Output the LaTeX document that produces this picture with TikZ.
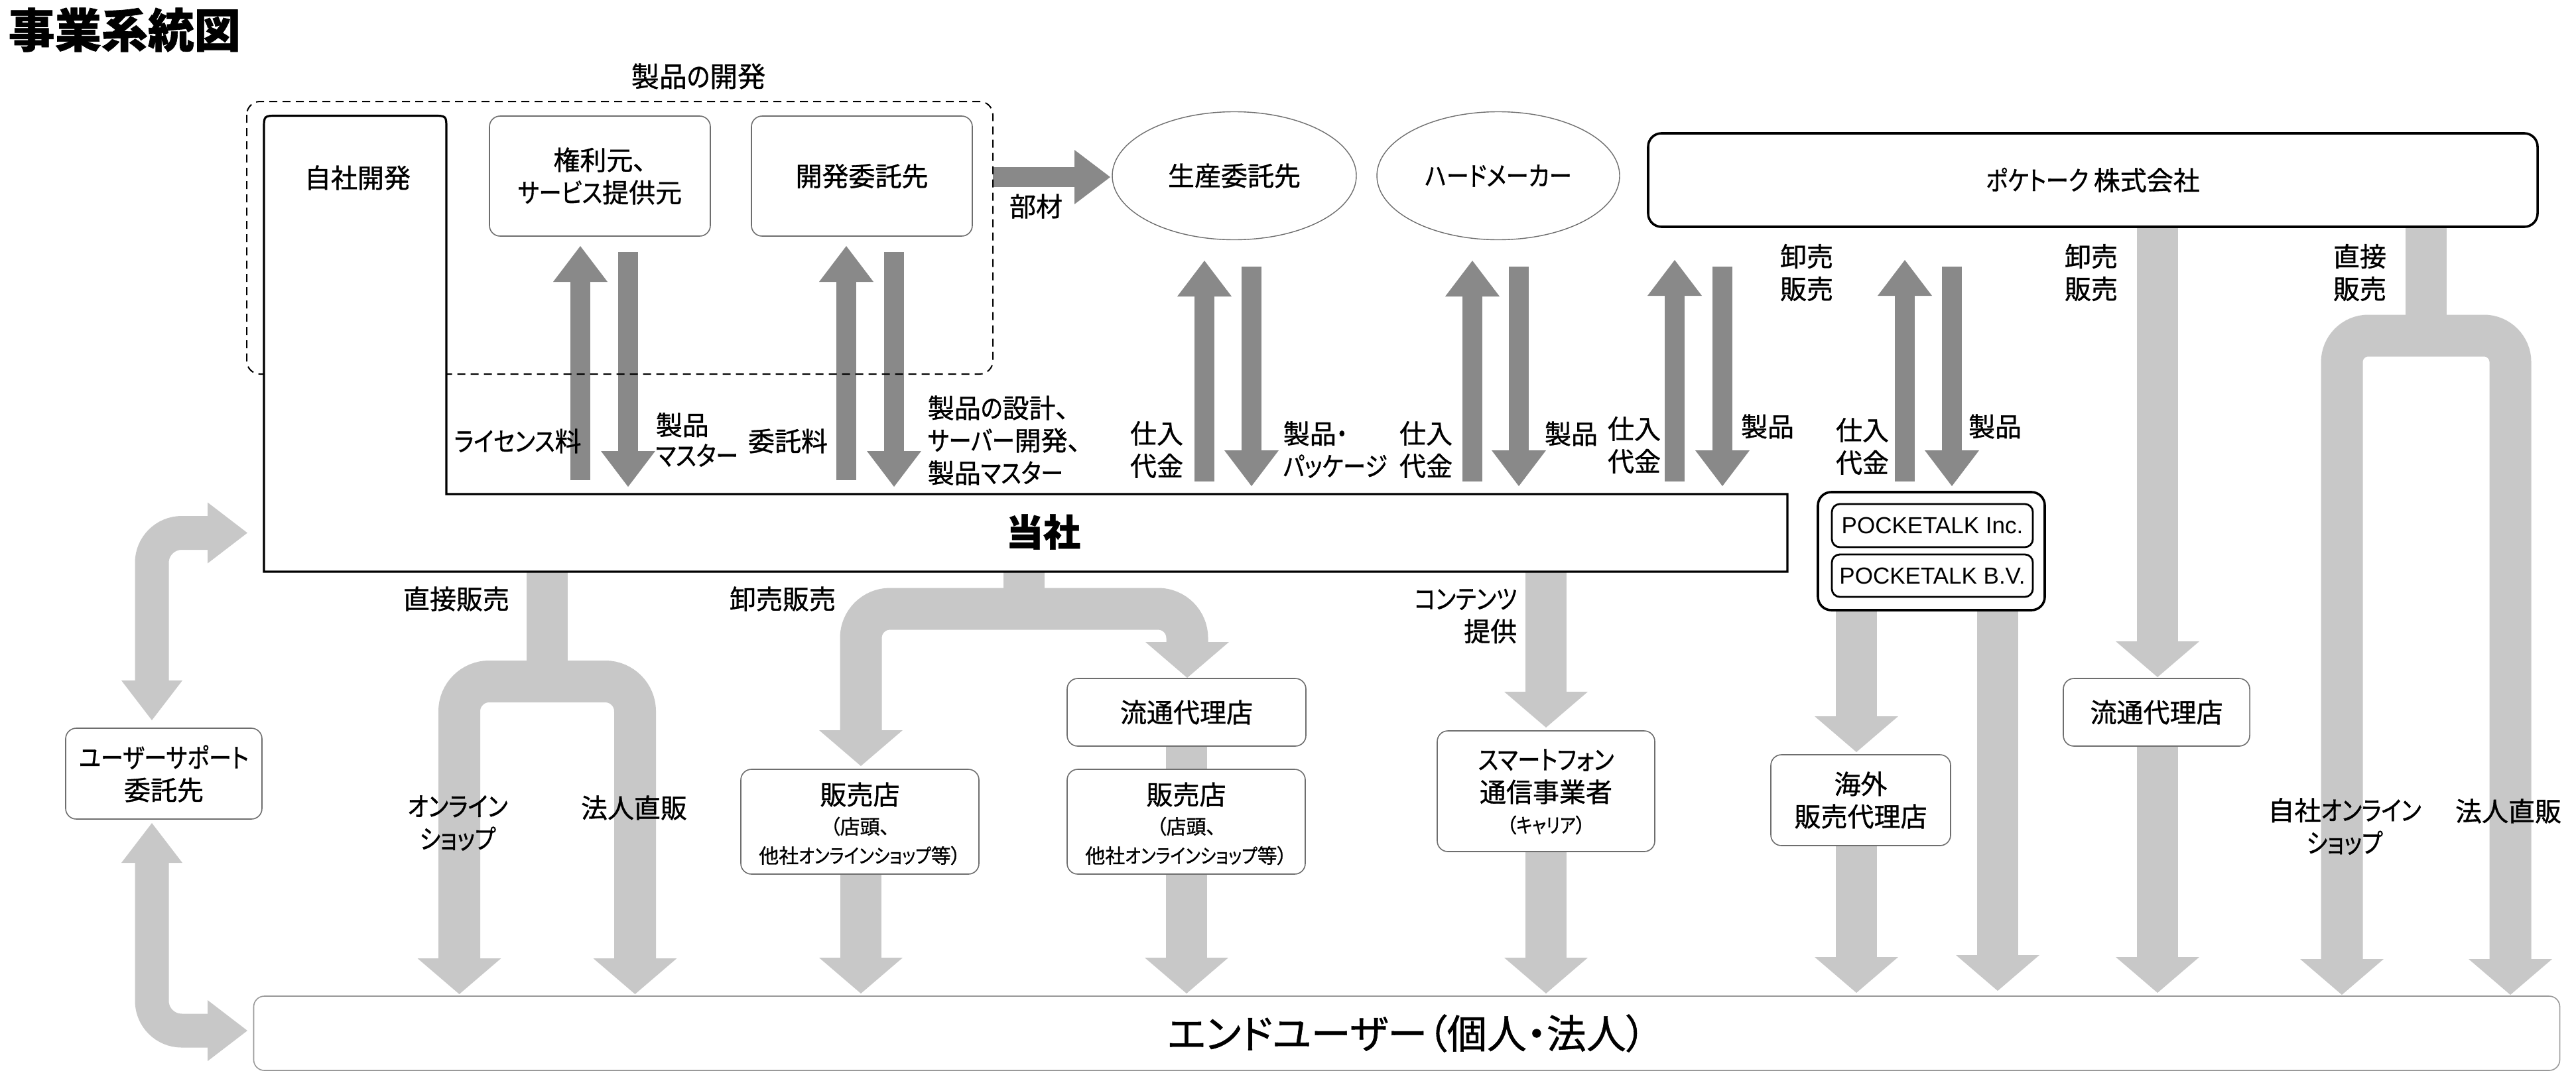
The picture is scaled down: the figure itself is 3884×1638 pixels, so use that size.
\documentclass[tikz,border=0pt]{standalone}
\usepackage{fontspec}
\setmainfont{Noto Sans CJK JP}[RawFeature=+palt, FakeBold=0.9]
\newfontfamily\kanjif{Noto Sans CJK JP}[RawFeature=+palt, FakeBold=0.9]
\newfontfamily\kanaf{Noto Sans CJK JP}[RawFeature=+palt, FakeStretch=0.85, FakeBold=0.9]
\newfontfamily\latf{Liberation Sans}
\usetikzlibrary{arrows.meta,shapes.geometric}
% narrower kana, as in the proportional Japanese gothic of the reference
\XeTeXinterchartokenstate=1
\newXeTeXintercharclass\kanacls
\newXeTeXintercharclass\kanjicls
\newcount\kcnt
\kcnt="3041
\loop \XeTeXcharclass\kcnt=\kanacls \advance\kcnt by 1 \ifnum\kcnt<"3100 \repeat
\kcnt="4E00
\loop \XeTeXcharclass\kcnt=\kanjicls \advance\kcnt by 1 \ifnum\kcnt<"A000 \repeat
\kcnt="3000
\loop \XeTeXcharclass\kcnt=\kanjicls \advance\kcnt by 1 \ifnum\kcnt<"3040 \repeat
\kcnt="FF00
\loop \XeTeXcharclass\kcnt=\kanjicls \advance\kcnt by 1 \ifnum\kcnt<"FFF0 \repeat
\XeTeXinterchartoks 4095 \kanacls = {\kanaf}
\XeTeXinterchartoks 0 \kanacls = {\kanaf}
\XeTeXinterchartoks \kanjicls \kanacls = {\kanaf}
\XeTeXinterchartoks \kanacls \kanjicls = {\kanjif}
\XeTeXinterchartoks 4095 \kanjicls = {\kanjif}
\XeTeXinterchartoks 0 \kanjicls = {\kanjif}
\XeTeXinterchartoks \kanacls 0 = {\kanjif}
\newcommand\nokana{\XeTeXinterchartokenstate 0\relax}
\definecolor{lg}{RGB}{200,200,200}
\definecolor{dg}{RGB}{137,137,137}
\definecolor{bd}{RGB}{110,110,110}
\newcommand\myfn{\fontsize{10pt}{12.25pt}\selectfont}
\newcommand\myfm{\fontsize{10.5pt}{12.5pt}\selectfont}
\newcommand\myfs{\fontsize{7.5pt}{9pt}\selectfont}
\newcommand\myfl{\fontsize{14pt}{16pt}\selectfont}
\newcommand\myfe{\nokana\fontsize{15pt}{17pt}\selectfont}
\tikzset{
  darr/.style={draw=dg, line width=7.5pt, -{Triangle[width=20.5pt,length=13.5pt,line width=0pt]}},
  larr/.style={draw=lg, line width=15.5pt, -{Triangle[width=31.5pt,length=13.5pt,line width=0pt]}},
  larrb/.style={draw=lg, line width=15.75pt, {Triangle[width=31.5pt,length=13.5pt,line width=0pt]}-{Triangle[width=31.5pt,length=13.5pt,line width=0pt]}},
  lbar/.style={draw=lg, line width=15.5pt},
  usarr/.style={draw=lg, line width=12.75pt, {Triangle[width=23pt,length=15pt,line width=0pt]}-{Triangle[width=23pt,length=15pt,line width=0pt]}},
  box/.style={rectangle, rounded corners=4pt, draw=bd, line width=0.4pt, fill=white, inner sep=0pt, align=center, font=\myfn},
  bbox/.style={rectangle, rounded corners=5pt, draw=black, line width=0.9pt, fill=white, inner sep=0pt, align=center},
  ell/.style={ellipse, draw=bd, line width=0.35pt, fill=white, inner sep=0pt, font=\myfn},
  lab/.style={inner sep=0pt, align=center, font=\myfn},
}
\begin{document}
\begin{tikzpicture}[x=0.25pt,y=-0.25pt]
\useasboundingbox (0,0) rectangle (3884,1638);

% ---------- light grey flow arrows ----------
\draw[lbar] (825,862) -- (825,1030);
\draw[larrb, rounded corners=11.25pt] (692.5,1499) -- (692.5,1027.5) -- (957.5,1027.5) -- (957.5,1499);
\draw[lbar] (1544,862) -- (1544,920);
\draw[larrb, rounded corners=11pt] (1298,1155) -- (1298,918) -- (1790,918) -- (1790,1022);
\draw[lbar] (1789,1120) -- (1789,1165);
\draw[larr] (1298,1318) -- (1298,1498);
\draw[larr] (1789,1318) -- (1789,1498);
\draw[larr] (2331,862) -- (2331,1097);
\draw[larr] (2331,1284) -- (2331,1498);
\draw[larr] (2799,920) -- (2799,1134);
\draw[larr] (2799,1275) -- (2799,1497);
\draw[larr] (3012,920) -- (3012,1494);
\draw[larr] (3253,342) -- (3253,1021);
\draw[larr] (3253,1125) -- (3253,1497);
\draw[lbar] (3658,342) -- (3658,510);
\draw[larrb, rounded corners=10pt] (3531,1500) -- (3531,506) -- (3785,506) -- (3785,1500);
\draw[usarr, rounded corners=11.25pt] (229,1086) -- (229,803.5) -- (373,803.5);
\draw[usarr, rounded corners=11.25pt] (229,1241) -- (229,1554) -- (373,1554);

% ---------- dark grey arrows ----------
\draw[darr] (875,724) -- (875,371);
\draw[darr] (947,380) -- (947,734);
\draw[darr] (1276,724) -- (1276,371);
\draw[darr] (1348,380) -- (1348,734);
\draw[darr] (1816,726) -- (1816,393);
\draw[darr] (1887,402) -- (1887,733);
\draw[darr] (2220,726) -- (2220,393);
\draw[darr] (2290,402) -- (2290,733);
\draw[darr] (2525,726) -- (2525,392);
\draw[darr] (2597,402) -- (2597,733);
\draw[darr] (2872,726) -- (2872,392);
\draw[darr] (2943,402) -- (2943,733);
\draw[darr] (1497,267) -- (1674,267);

% ---------- shapes ----------
\draw[dashed, dash pattern=on 3pt off 2pt, line width=0.5pt, rounded corners=5pt] (372,153) rectangle (1497,564);
\draw[line width=0.8pt, fill=white] (398,862) -- (398,194.5) .. controls (398,174.5) .. (418,174.5) -- (653,174.5) .. controls (673,174.5) .. (673,194.5) -- (673,745) -- (2695,745) -- (2695,862) -- cycle;

\node[box, minimum width=83.25pt, minimum height=45.25pt] (kenri) at (904.5,265.5) {権利元、\\サービス提供元};
\node[box, minimum width=83.25pt, minimum height=45.25pt] (itaku) at (1299.5,265.5) {開発委託先};
\node[ell, minimum width=92pt, minimum height=48.25pt] (seisan) at (1861,265) {生産委託先};
\node[ell, minimum width=91.5pt, minimum height=48.25pt] (hard) at (2259,265) {ハードメーカー};
\node[bbox, minimum width=335.25pt, minimum height=35.25pt, font=\myfn] (pt) at (3155.5,271.5) {ポケトーク 株式会社};
\node[bbox, minimum width=85.5pt, minimum height=44.5pt] (pkout) at (2912,831) {};
\node[bbox, rounded corners=3pt, line width=0.7pt, minimum width=75.75pt, minimum height=16.25pt, font=\latf\fontsize{8.75pt}{10pt}\selectfont] (pkinc) at (2913.5,792.5) {POCKETALK Inc.};
\node[bbox, rounded corners=3pt, line width=0.7pt, minimum width=75.75pt, minimum height=16pt, font=\latf\fontsize{8.75pt}{10pt}\selectfont] (pkbv) at (2913.5,868) {POCKETALK B.V.};
\node[box, minimum width=74pt, minimum height=34.25pt] (support) at (247,1166.5) {ユーザーサポート\\委託先};
\node[box, minimum width=89.75pt, minimum height=39.5pt] (shop1) at (1296.5,1239) {};
\node[box, minimum width=90pt, minimum height=25.5pt] (dist1) at (1789,1074) {流通代理店};
\node[box, minimum width=89.75pt, minimum height=39.5pt] (shop2) at (1788.5,1239) {};
\node[box, minimum width=82pt, minimum height=45.5pt] (smart) at (2331,1193) {};
\node[box, minimum width=67.75pt, minimum height=34.25pt] (kaigai) at (2805.5,1206.5) {海外\\販売代理店};
\node[box, minimum width=70.25pt, minimum height=25.5pt] (dist2) at (3251.5,1074) {流通代理店};
\node[box, draw=black!40, minimum width=869.25pt, minimum height=28pt, font=\myfe] (enduser) at (2121,1558) {エンドユーザー（個人・法人）};

% ---------- texts ----------
\node[lab, anchor=west, font=\fontsize{17.5pt}{20pt}\selectfont\bfseries] (title) at (12,45) {事業系統図};
\node[lab, font=\myfm] (devlab) at (1053,115) {製品の開発};
\node[lab] (jisha) at (539,268) {自社開発};
\node[lab, font=\myfl\bfseries] (tosha) at (1573,802) {当社};
\node[lab] (buzai) at (1562,311) {部材};
\node[lab, anchor=west] (lic) at (684,665) {ライセンス料};
\node[lab, anchor=west, align=left, font=\fontsize{10pt}{11.5pt}\selectfont] (master) at (988,663) {製品\\マスター};
\node[lab] (itakuryo) at (1188,665) {委託料};
\node[lab, anchor=west, align=left] (sekkei) at (1398,664) {製品の設計、\\サーバー開発、\\製品マスター};
\node[lab] (sd1) at (1744,678) {仕入\\代金};
\node[lab, anchor=west, align=left] (pkg) at (1934,678) {製品・\\パッケージ};
\node[lab] (sd2) at (2150,678) {仕入\\代金};
\node[lab] (sei2) at (2369,654) {製品};
\node[lab] (sd3) at (2464,671) {仕入\\代金};
\node[lab] (sei3) at (2665,643) {製品};
\node[lab] (sd4) at (2808,673) {仕入\\代金};
\node[lab] (sei4) at (3008,643) {製品};
\node[lab] (oroshi1) at (2724,411) {卸売\\販売};
\node[lab] (oroshi2) at (3153,411) {卸売\\販売};
\node[lab] (chok2) at (3558,411) {直接\\販売};
\node[lab] (chok1) at (688,903) {直接販売};
\node[lab] (oroshi3) at (1180,903) {卸売販売};
\node[lab, anchor=east, align=right] (contents) at (2288,929) {コンテンツ\\提供};
\node[lab] (online1) at (690,1241) {オンライン\\ショップ};
\node[lab] (hojin1) at (956,1218) {法人直販};
\node[lab] (online2) at (3535,1246) {自社オンライン\\ショップ};
\node[lab] (hojin2) at (3782,1223) {法人直販};
\node[lab] (s1a) at (1296.5,1198) {販売店};
\node[lab, font=\myfs] (s1b) at (1296.5,1246) {（店頭、};
\node[lab, font=\myfs] (s1c) at (1296.5,1290) {他社オンラインショップ等）};
\node[lab] (s2a) at (1788.5,1198) {販売店};
\node[lab, font=\myfs] (s2b) at (1788.5,1246) {（店頭、};
\node[lab, font=\myfs] (s2c) at (1788.5,1290) {他社オンラインショップ等）};
\node[lab] (sm1) at (2331,1146) {スマートフォン};
\node[lab] (sm2) at (2331,1194) {通信事業者};
\node[lab, font=\myfs] (sm3) at (2331,1244) {（キャリア）};
\end{tikzpicture}
\end{document}
